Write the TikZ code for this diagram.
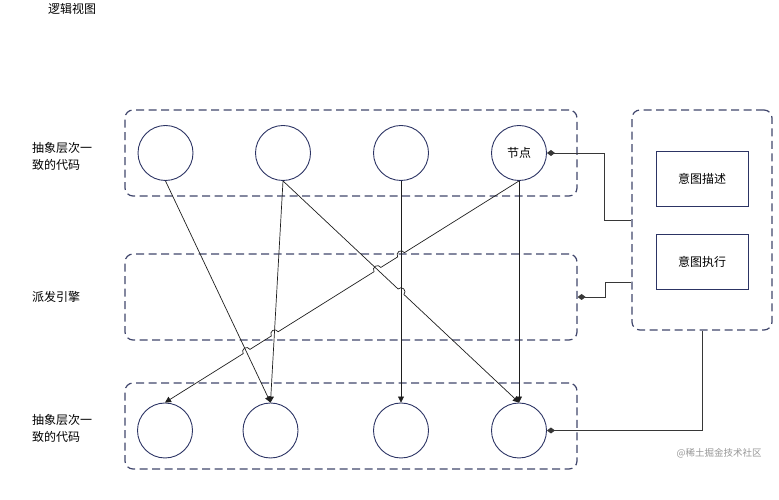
\documentclass[tikz,border=0pt]{standalone}
\usepackage{fontspec}
\setmainfont{Noto Sans CJK SC}
\usetikzlibrary{arrows.meta,calc}
\definecolor{navy}{RGB}{44,52,100}
\definecolor{dashc}{RGB}{64,70,108}
\definecolor{linec}{RGB}{30,30,30}
\definecolor{orthc}{RGB}{55,55,55}
\definecolor{wmark}{RGB}{150,150,150}
\begin{document}
\begin{tikzpicture}[x=1pt,y=1pt,
  circ/.style={circle,draw=navy,line width=0.9pt,minimum size=55pt,inner sep=0pt,font=\fontsize{12}{14}\selectfont},
  group/.style={draw=dashc,line width=1.2pt,dash pattern=on 8pt off 4.5pt,rounded corners=8pt,inner sep=0pt},
  box/.style={draw=navy,line width=0.9pt,inner sep=0pt,minimum width=92pt,minimum height=55pt,font=\fontsize{12}{14}\selectfont},
  lbl/.style={anchor=west,align=left,font=\fontsize{12}{17}\selectfont,inner sep=0pt},
  arr/.style={draw=linec,line width=0.7pt,-{Triangle[length=6pt,width=6pt]}},
  orth/.style={draw=orthc,line width=0.9pt,{Diamond[length=8pt,width=6pt]}-}]
\useasboundingbox (0,0) rectangle (779,500);
% title and labels
\node[lbl] (title) at (48,491) {逻辑视图};
\node[lbl] (ltop) at (32,344) {抽象层次一\\致的代码};
\node[lbl] (lmid) at (32,203) {派发引擎};
\node[lbl] (lbot) at (32,71.5) {抽象层次一\\致的代码};
% groups
\node[group,minimum width=452pt,minimum height=86pt] (gtop) at (351,347) {};
\node[group,minimum width=452pt,minimum height=86pt] (gmid) at (351,203) {};
\node[group,minimum width=452pt,minimum height=86pt] (gbot) at (351,74) {};
\node[group,minimum width=140pt,minimum height=220pt] (R) at (702,280) {};
% boxes
\node[box] (desc) at (702,321.5) {意图描述};
\node[box] (exec) at (702,238.5) {意图执行};
% circles
\node[circ] (t1) at (165.5,347) {};
\node[circ] (t2) at (283,347) {};
\node[circ] (t3) at (401,347) {};
\node[circ] (t4) at (519,347) {节点};
\node[circ] (b1) at (165,69.5) {};
\node[circ] (b2) at (270.5,69.5) {};
\node[circ] (b3) at (401,69.5) {};
\node[circ] (b4) at (519,69.5) {};
% straight connectors
\draw[arr] (t1.south) -- (b2.north);
\draw[arr] (t2.south) -- (b2.north);
\draw[arr] (t3.south) -- (b3.north);
\draw[arr] (t4.south) -- (b4.north);
\draw[arr] (t2.south) -- ($(t2.south)!0.4877!(b4.north)$)
  arc[start angle=136.75,end angle=-43.25,radius=4pt] -- (b4.north);
\draw[arr] (t4.south) -- ($(t4.south)!0.3237!(b1.north)$)
  arc[start angle=32.15,end angle=212.15,radius=4pt]
  -- ($(t4.south)!0.3904!(b1.north)$)
  arc[start angle=32.15,end angle=212.15,radius=4pt]
  -- ($(t4.south)!0.6804!(b1.north)$)
  arc[start angle=32.15,end angle=212.15,radius=4pt]
  -- ($(t4.south)!0.7600!(b1.north)$)
  arc[start angle=32.15,end angle=212.15,radius=4pt]
  -- (b1.north);
% orthogonal connectors
\draw[orth] (t4.east) -- ++(57pt,0) |- (R.west);
\draw[orth] (gmid.east) -- ++(28pt,0) |- ([yshift=-62pt]R.west);
\draw[orth] (b4.east) -| (R.south);
% watermark
\node[font=\fontsize{9.5}{11}\selectfont,text=wmark,inner sep=0pt] (wm) at (719,47) {@稀土掘金技术社区};
\end{tikzpicture}
\end{document}
